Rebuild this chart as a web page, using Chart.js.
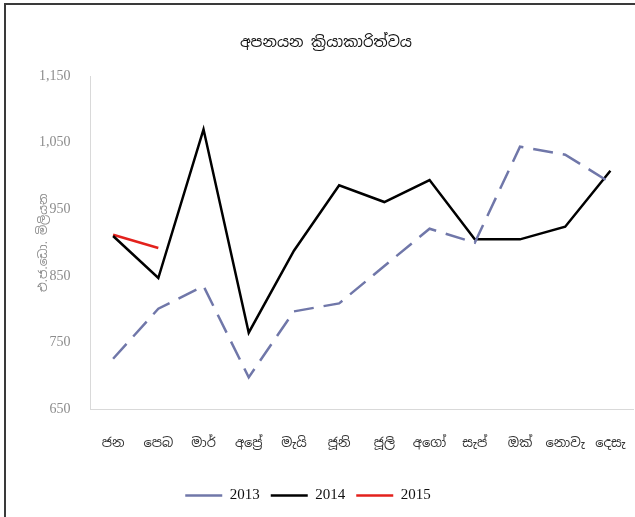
<!DOCTYPE html>
<html>
<head>
<meta charset="utf-8">
<script src="https://cdn.jsdelivr.net/npm/chart.js@4"></script>
<style>
  html, body { margin: 0; padding: 0; background: #fff; }
  .frame { position: relative; width: 635px; height: 517px; overflow: hidden; }
  .frame:before { content: ""; position: absolute; left: 4px; top: 3px; width: 2px; height: 514px; background: #3a3a3a; }
  .frame:after { content: ""; position: absolute; left: 4px; top: 3px; width: 631px; height: 2px; background: #3a3a3a; }
  canvas { position: absolute; left: 0; top: 0; }
</style>
</head>
<body>
<div class="frame"><canvas id="c" width="635" height="517"></canvas></div>
<script>
// අපනයන ක්‍රියාකාරිත්වය: මාසික අපනයන (එ.ජ.ඩො. මිලියන), 2013 / 2014 / 2015
var months = ["ජන", "පෙබ", "මාර්", "අප්‍රේ", "මැයි", "ජූනි", "ජූලි", "අගෝ", "සැප්", "ඔක්", "නොවැ", "දෙසැ"];
var exports2013 = [726, 801, 835, 698, 797, 809, 865, 921, 900, 1044, 1032, 990];
var exports2014 = [910, 847, 1070, 765, 888, 986, 961, 994, 905, 905, 924, 1008];
var exports2015 = [912, 892];
var yTicks = [650, 750, 850, 950, 1050, 1150];

var sinhala = "'Noto Sans Sinhala', 'Iskoola Pota', 'LKLUG', sans-serif";
var serif = "'Liberation Serif', 'DejaVu Serif', serif";

new Chart(document.getElementById("c").getContext("2d"), {
    type: "line",
    data: {
        labels: months,
        datasets: [
            { label: "2013", data: exports2013, borderColor: "#7077a9", backgroundColor: "#7077a9",
              borderWidth: 2.5, borderDash: [20, 10], pointRadius: 0, tension: 0 },
            { label: "2014", data: exports2014, borderColor: "#000000", backgroundColor: "#000000",
              borderWidth: 2.5, pointRadius: 0, tension: 0 },
            { label: "2015", data: exports2015, borderColor: "#e3211c", backgroundColor: "#e3211c",
              borderWidth: 2.5, pointRadius: 0, tension: 0 },
        ],
    },
    options: {
        responsive: false,
        animation: false,
        layout: { padding: { left: 19, right: 2, top: 10, bottom: 4 } },
        scales: {
            x: {
                offset: true,
                grid: { display: false, drawTicks: false },
                border: { color: "#d9d9d9", width: 1 },
                ticks: { color: "#333", padding: 26, maxRotation: 0, autoSkip: false,
                         font: { family: sinhala, size: 13 } },
                // ticks.padding කෙළවරවල් වලටත් එකතු වන නිසා එය ඉවත් කරයි
                afterFit: function (s) { s.paddingLeft = 0; s.paddingRight = 0; },
            },
            y: {
                min: 650, max: 1150,
                afterBuildTicks: function (ax) { ax.ticks = yTicks.map(function (v) { return { value: v }; }); },
                grid: { display: false, drawTicks: false },
                border: { color: "#d9d9d9", width: 1 },
                ticks: { color: "#8c8c8c", padding: 20,
                         font: { family: serif, size: 14 },
                         callback: function (v) { return v.toLocaleString("en-US"); } },
                title: { display: false },
            },
        },
        plugins: {
            title: { display: true, text: "අපනයන ක්‍රියාකාරිත්වය", color: "#111",
                     font: { family: sinhala, size: 15, weight: "normal" },
                     padding: { top: 24, bottom: 24 } },
            legend: {
                position: "bottom",
                labels: { usePointStyle: true, pointStyle: "line", pointStyleWidth: 37, boxHeight: 10,
                          padding: 11, color: "#111", font: { family: serif, size: 15 } },
            },
            tooltip: { enabled: false },
        },
    },
    plugins: [{
        // ලෙජන්ඩය මුල් රූපයේ මෙන් මදක් වමට
        id: "legendShift",
        afterLayout: function (chart) {
            if (!chart.legend) return;
            chart.legend.left -= 18;
            chart.legend.right -= 18;
        },
    }, {
        // y අක්ෂ මාතෘකාව: අක්ෂ ලේබල් වලට වම් පසින් සිරස්ව
        id: "yTitle",
        afterDraw: function (chart) {
            var ctx = chart.ctx, ca = chart.chartArea;
            ctx.save();
            ctx.translate(44, (ca.top + ca.bottom) / 2);
            ctx.rotate(-Math.PI / 2);
            ctx.fillStyle = "#8c8c8c";
            ctx.font = "12px " + sinhala;
            ctx.textAlign = "center";
            ctx.textBaseline = "middle";
            ctx.fillText("එ.ජ.ඩො. මිලියන", 0, 0);
            ctx.restore();
        },
    }],
});
</script>
</body>
</html>
